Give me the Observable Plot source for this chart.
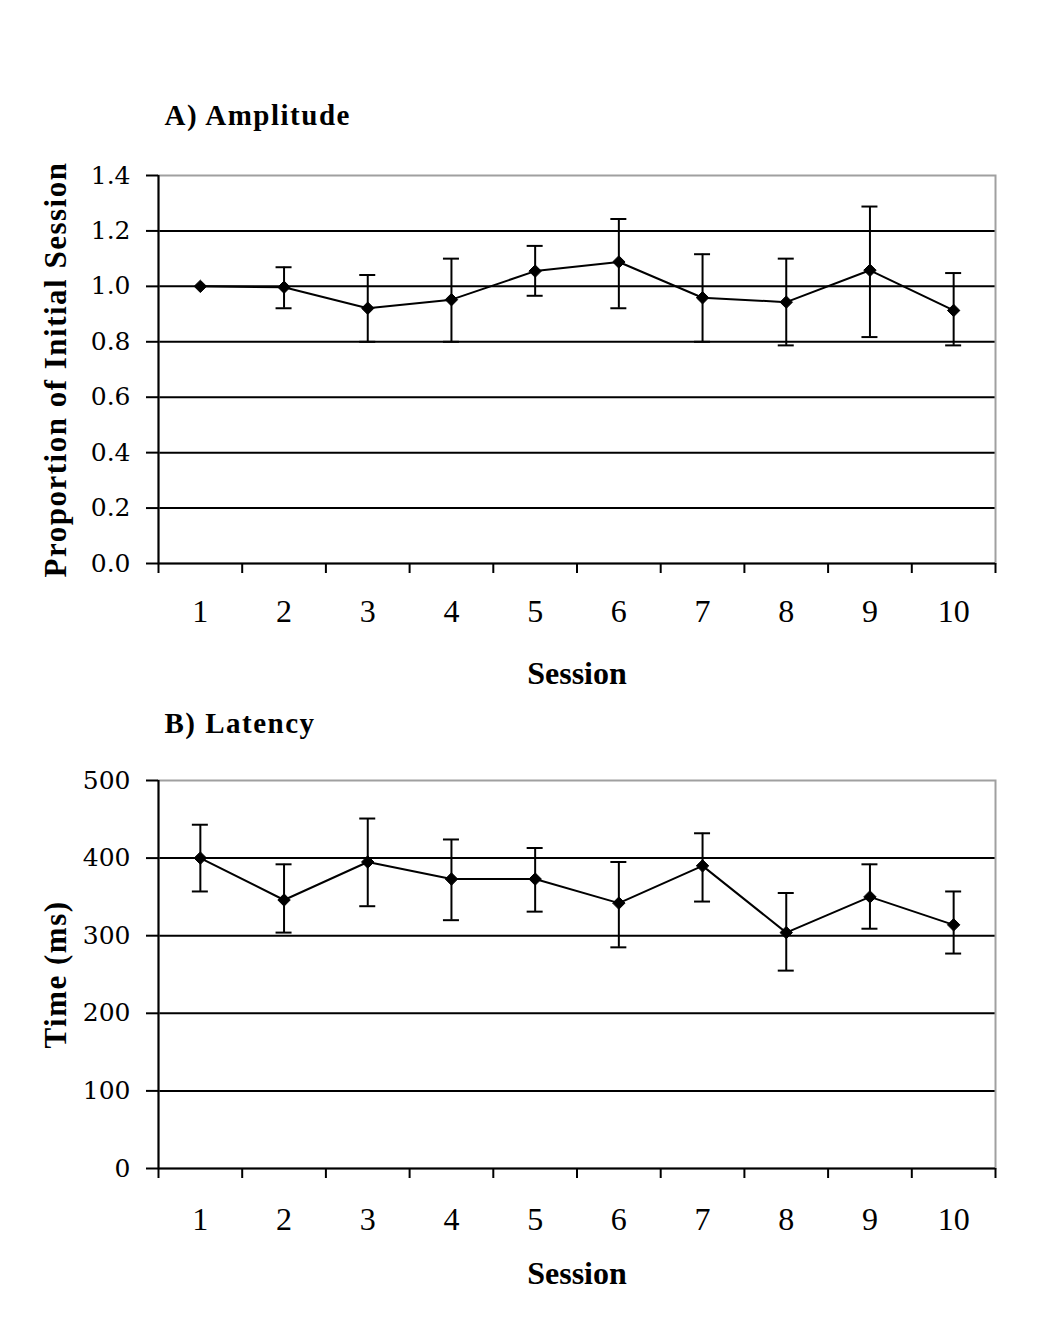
<!DOCTYPE html>
<html><head><meta charset="utf-8">
<script src="https://cdn.jsdelivr.net/npm/d3@7"></script>
<script src="https://cdn.jsdelivr.net/npm/@observablehq/plot@0.6"></script>
<style>body{margin:0;background:#fff} #chart svg{display:block} .lbl text, text.lbl, g.lbl{letter-spacing:1.5px}</style>
</head><body><div id="chart"></div>
<script>
// ---- data ----
const sessions = [1, 2, 3, 4, 5, 6, 7, 8, 9, 10];

const ampMean = [1.00, 0.997, 0.921, 0.952, 1.055, 1.088, 0.959, 0.943, 1.058, 0.913];
const ampHi   = [null, 1.069, 1.041, 1.100, 1.146, 1.243, 1.116, 1.100, 1.288, 1.048];
const ampLo   = [null, 0.921, 0.800, 0.800, 0.966, 0.921, 0.800, 0.787, 0.817, 0.787];

const latMean = [400, 346, 395, 373, 373, 342, 390, 304, 350, 314];
const latHi   = [443, 392, 451, 424, 413, 395, 432, 355, 392, 357];
const latLo   = [357, 304, 338, 320, 331, 285, 344, 255, 309, 277];

const ampTicks = [0, 0.2, 0.4, 0.6, 0.8, 1.0, 1.2, 1.4];
const latTicks = [0, 100, 200, 300, 400, 500];

const edges = [0.5].concat(sessions.map(s => s + 0.5));

function rowsOf(mean, lo, hi) {
  return sessions.map((s, i) => ({session: s, mean: mean[i], lo: lo[i], hi: hi[i]}));
}

function panel(o) {
  const rows = o.rows;
  const err = rows.filter(d => d.lo != null);
  const [y0, y1] = o.yDomain;
  return Plot.plot({
    width: 1050, height: o.height,
    marginTop: o.marginTop, marginBottom: o.marginBottom, marginLeft: 158, marginRight: 55,
    x: {type: "linear", domain: [0.5, 10.5]},
    y: {domain: o.yDomain},
    style: {fontFamily: "Liberation Serif", color: "black", background: "white", overflow: "visible"},
    marks: [
      Plot.ruleY(o.yTicks.filter(t => t > y0 && t < y1), {stroke: "black", strokeWidth: 2}),
      Plot.frame({stroke: "#a0a0a0", strokeWidth: 2}),
      Plot.ruleX([0.5], {stroke: "black", strokeWidth: 2}),
      Plot.ruleY([y0], {stroke: "black", strokeWidth: 2}),
      Plot.axisY(o.yTicks, {tickSize: 12, tickPadding: 16, tickFormat: o.yFmt, fontSize: 25,
        fontFamily: "DejaVu Serif", label: null, strokeWidth: 2}),
      Plot.axisX(edges, {tickSize: 10, fill: "none", label: null, strokeWidth: 2}),
      Plot.axisX(sessions, {tickSize: 0, tickPadding: o.xPad, fontSize: 32, label: null, tickFormat: d => String(d)}),
      Plot.ruleX(err, {x: "session", y1: "lo", y2: "hi", stroke: "black", strokeWidth: 2}),
      Plot.ruleY(err, {y: "hi", x1: "session", x2: "session", insetLeft: -8, insetRight: -8, stroke: "black", strokeWidth: 2}),
      Plot.ruleY(err, {y: "lo", x1: "session", x2: "session", insetLeft: -8, insetRight: -8, stroke: "black", strokeWidth: 2}),
      Plot.line(rows, {x: "session", y: "mean", stroke: "black", strokeWidth: 2}),
      Plot.dot(rows, {x: "session", y: "mean", symbol: "diamond2", r: 5.6, fill: "black", stroke: "black", strokeWidth: 1}),
      Plot.text([o.title], {frameAnchor: "top-left", dx: 6, dy: o.titleDy, lineAnchor: "bottom", textAnchor: "start",
        fontSize: 29, fontWeight: "bold", className: "lbl"}),
      Plot.text([o.ylab], {frameAnchor: "left", rotate: -90, dx: -102, lineAnchor: "middle", textAnchor: "middle",
        fontSize: 31, fontWeight: "bold", className: "lbl"}),
      Plot.text(["Session"], {frameAnchor: "bottom", dy: o.sessDy, lineAnchor: "bottom", textAnchor: "middle",
        fontSize: 32, fontWeight: "bold"})
    ]
  });
}

const chart = document.getElementById("chart");
chart.append(panel({
  rows: rowsOf(ampMean, ampLo, ampHi), yDomain: [0, 1.4], yTicks: ampTicks, yFmt: d => d.toFixed(1),
  title: "A) Amplitude", ylab: "Proportion of Initial Session",
  height: 700, marginTop: 175, marginBottom: 137, titleDy: -51, sessDy: 120, xPad: 36
}));
chart.append(panel({
  rows: rowsOf(latMean, latLo, latHi), yDomain: [0, 500], yTicks: latTicks, yFmt: d => String(d),
  title: "B) Latency", ylab: "Time (ms)",
  height: 632, marginTop: 80, marginBottom: 164, titleDy: -48, sessDy: 115, xPad: 39
}));
</script>
</body></html>
